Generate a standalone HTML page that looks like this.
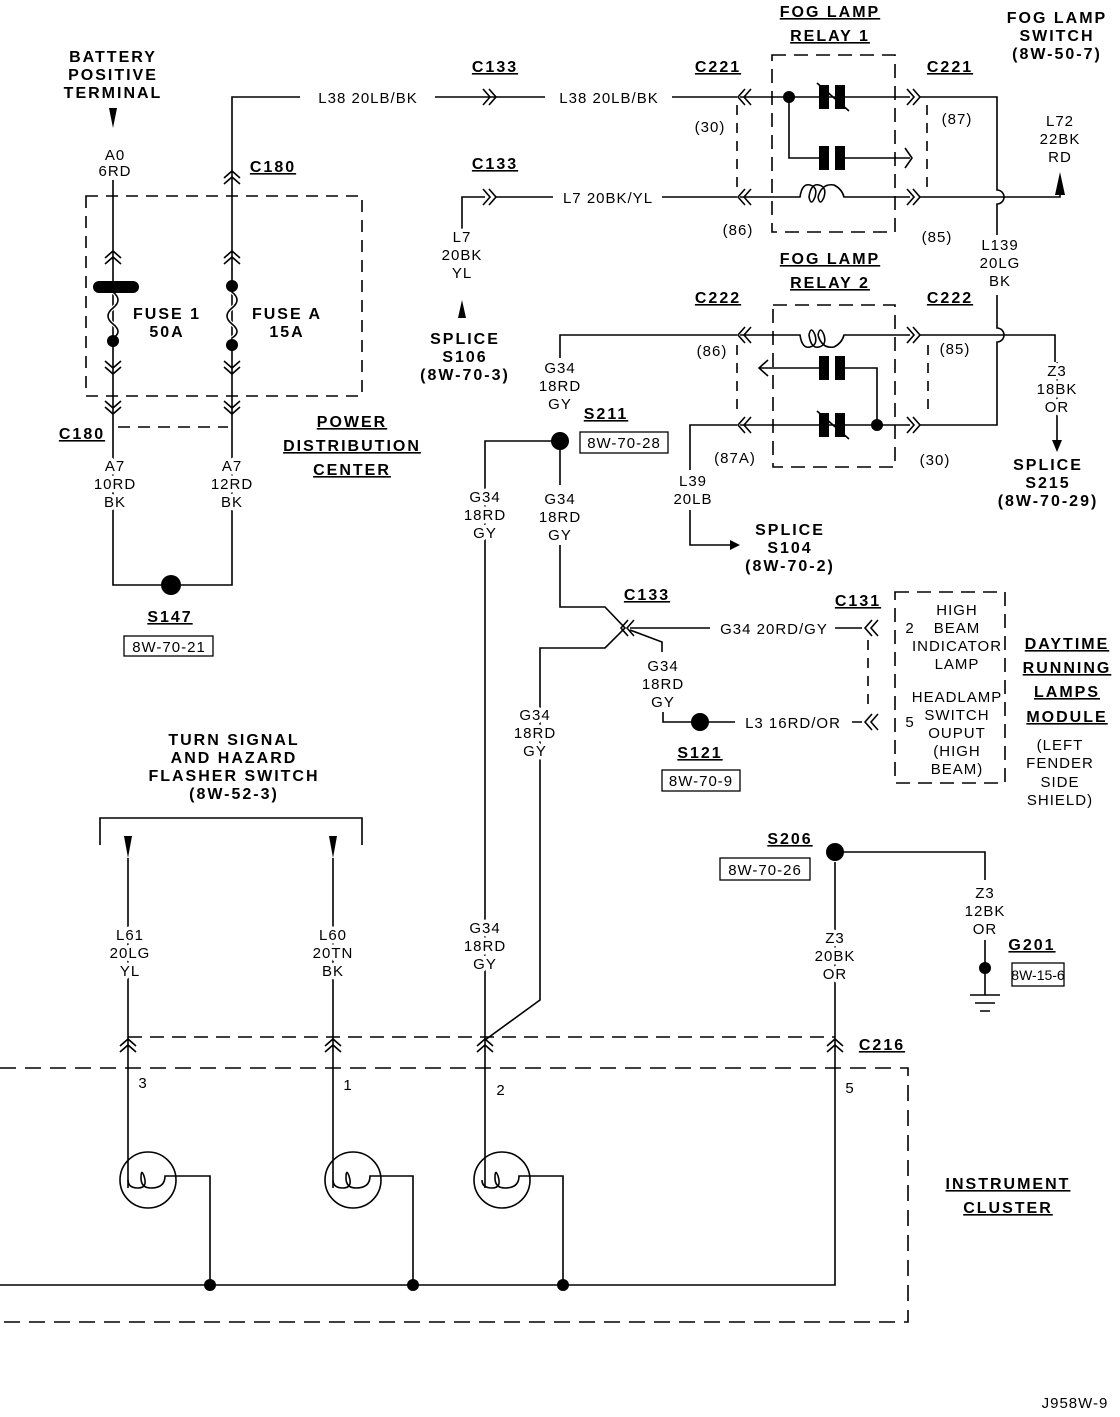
<!DOCTYPE html>
<html><head><meta charset="utf-8"><style>
html,body{margin:0;padding:0;background:#fff}
svg{display:block}
text{font-family:"Liberation Sans",sans-serif;font-size:15px;fill:#000;text-anchor:middle;letter-spacing:1px;stroke:#fff;stroke-width:7px;paint-order:stroke;stroke-linejoin:round}
.b{font-weight:bold;font-size:16px;letter-spacing:2px}
.u{text-decoration:underline;stroke:none}
.n{stroke:none}
</style></head><body>
<svg width="1120" height="1417" viewBox="0 0 1120 1417" xmlns="http://www.w3.org/2000/svg">
<defs>
<g id="cu" fill="none" stroke="#000" stroke-width="1.6"><path d="M-8,3 L0,-4 L8,3 M-8,9 L0,2 L8,9"/></g>
<g id="cd" fill="none" stroke="#000" stroke-width="1.6"><path d="M-8,-3 L0,4 L8,-3 M-8,-9 L0,-2 L8,-9"/></g>
<g id="cr" fill="none" stroke="#000" stroke-width="1.6"><path d="M-9,-8 L-2,0 L-9,8 M-3,-8 L4,0 L-3,8"/></g>
<g id="cl" fill="none" stroke="#000" stroke-width="1.6"><path d="M9,-8 L2,0 L9,8 M3,-8 L-4,0 L3,8"/></g>
<g id="nc"><rect x="-14" y="-12" width="10" height="24" fill="#000"/><rect x="2" y="-12" width="10" height="24" fill="#000"/><path d="M-16,-14 L16,14" stroke="#000" stroke-width="1.6"/></g>
<g id="no"><rect x="-14" y="-12" width="10" height="24" fill="#000"/><rect x="2" y="-12" width="10" height="24" fill="#000"/></g>
</defs>
<g fill="none" stroke="#000" stroke-width="1.6">
<rect x="86" y="196" width="276" height="200" stroke-dasharray="12,8"/>
<path d="M113,180 V585 H232 V97 H300 M435,97 H545 M672,97 H737"/>
<path d="M118,427 H228" stroke-dasharray="12,8"/>
<path d="M113,292 q10,8 0,16 q-10,8 0,16 q10,8 0,14 M232,292 q10,8 0,16 q-10,8 0,16 q10,8 0,14" stroke="#fff" stroke-width="4"/>
<path d="M113,292 q10,8 0,16 q-10,8 0,16 q10,8 0,14 M232,292 q10,8 0,16 q-10,8 0,16 q10,8 0,14"/>
<path d="M462,232 V197 H485 M495,197 H553 M662,197 H737"/>
<rect x="772" y="55" width="123" height="177" stroke-dasharray="14,8"/>
<path d="M737,105 V195 M927,105 V195" stroke-dasharray="10,8"/>
<path d="M740,97 H910 M789,97 V158 H820 M845,158 H910 M905,148 L912,158 L905,168"/>
<path d="M740,197 H800 q2,-14 10,-12 q8,2 5,12 q-4,10 -6,0 q2,-14 10,-12 q8,2 5,12 q-4,10 -6,0 M818,197 q4,-14 16,-12 q8,4 10,12 H910"/>
<path d="M920,97 H997 V190 a7,7 0 0 1 0,14 V235 M920,197 H1060 V190"/>
<path d="M997,295 V328 a7,7 0 0 1 0,14 V425 H920"/>
<rect x="773" y="305" width="122" height="162" stroke-dasharray="14,8"/>
<path d="M737,345 V415 M928,345 V415" stroke-dasharray="10,8"/>
<path d="M560,358 V335 H737 M740,335 H800 q2,14 10,12 q8,-2 5,-12 q-4,-10 -6,0 q2,14 10,12 q8,-2 5,-12 q-4,-10 -6,0 M818,335 q4,14 16,12 q8,-4 10,-12 H910 M920,335 H1055 V362"/>
<path d="M760,368 H820 M845,368 H877 V425 M768,360 L759,368 L768,376"/>
<path d="M690,470 V425 H737 M740,425 H910"/>
<path d="M690,510 V545 H730"/>
<path d="M560,441 H485 V1040 M560,441 V485 M560,545 V607 H605 L625,628 L605,648 H540 V1000 L485,1040"/>
<path d="M630,628 H710 M835,628 H862 M630,630 L662,642 V652 M663,712 V722 H735 M852,722 H862"/>
<path d="M868,640 V712" stroke-dasharray="10,8"/>
<rect x="895" y="592" width="110" height="191" stroke-dasharray="14,8"/>
<path d="M100,845 V818 H362 V845"/>
<path d="M128,858 V1188 M333,858 V1188 M485,1040 V1188 M835,862 V1285 H0"/>
<path d="M128,1037 H835" stroke-dasharray="14,8"/>
<path d="M0,1068 H908 V1322 H0" stroke-dasharray="16,9"/>
<path d="M835,852 H985 V880 M985,940 V995"/>
<path d="M970,995 H1000 M975,1003 H995 M980,1011 H990"/>
<circle cx="148" cy="1180" r="28"/><circle cx="353" cy="1180" r="28"/><circle cx="502" cy="1180" r="28"/>
<path d="M128,1180 q0,8 10,8 q10,0 6,-12 q-3,-8 -3,2 q0,10 10,10 q14,0 14,-12 H210 V1285"/>
<path d="M333,1180 q0,8 10,8 q10,0 6,-12 q-3,-8 -3,2 q0,10 10,10 q14,0 14,-12 H413 V1285"/>
<path d="M482,1180 q0,8 10,8 q10,0 6,-12 q-3,-8 -3,2 q0,10 10,10 q14,0 14,-12 H563 V1285"/>
</g>
<use href="#cu" x="232" y="175"/><use href="#cu" x="113" y="255"/><use href="#cu" x="232" y="255"/>
<use href="#cd" x="113" y="370"/><use href="#cd" x="232" y="370"/><use href="#cd" x="113" y="410"/><use href="#cd" x="232" y="410"/>
<use href="#cr" x="492" y="97"/><use href="#cr" x="492" y="197"/>
<use href="#cl" x="742" y="97"/><use href="#cl" x="742" y="197"/><use href="#cr" x="916" y="97"/><use href="#cr" x="916" y="197"/>
<use href="#cl" x="742" y="335"/><use href="#cl" x="742" y="425"/><use href="#cr" x="916" y="335"/><use href="#cr" x="916" y="425"/>
<use href="#cl" x="625" y="628"/><use href="#cl" x="869" y="628"/><use href="#cl" x="869" y="722"/>
<use href="#cu" x="128" y="1043"/><use href="#cu" x="333" y="1043"/><use href="#cu" x="485" y="1043"/><use href="#cu" x="835" y="1043"/>
<use href="#nc" x="833" y="97"/><use href="#no" x="833" y="158"/><use href="#no" x="833" y="368"/><use href="#nc" x="833" y="425"/>
<g fill="#000">
<rect x="93" y="281" width="46" height="12" rx="6"/>
<circle cx="113" cy="341" r="6"/><circle cx="232" cy="286" r="6"/><circle cx="232" cy="345" r="6"/>
<circle cx="171" cy="585" r="10"/><circle cx="789" cy="97" r="6"/><circle cx="877" cy="425" r="6"/>
<circle cx="560" cy="441" r="9"/><circle cx="700" cy="722" r="9"/><circle cx="835" cy="852" r="9"/><circle cx="985" cy="968" r="6"/>
<circle cx="210" cy="1285" r="6"/><circle cx="413" cy="1285" r="6"/><circle cx="563" cy="1285" r="6"/>
<path d="M109,108 H117 L113,128 Z"/><path d="M462,300 L458,318 H466 Z"/><path d="M1060,172 L1055,195 H1065 Z"/>
<path d="M1057,362 V440" stroke="#000" stroke-width="1.6"/><path d="M1052,440 H1062 L1057,452 Z"/>
<path d="M730,540 V550 L740,545 Z"/>
<path d="M124,836 H132 L128,858 Z"/><path d="M329,836 H337 L333,858 Z"/>
</g>
<rect x="124" y="636" width="89" height="20" fill="none" stroke="#000" stroke-width="1.3"/>
<rect x="580" y="432" width="88" height="21" fill="#fff" stroke="#000" stroke-width="1.3"/>
<rect x="662" y="770" width="78" height="21" fill="none" stroke="#000" stroke-width="1.3"/>
<rect x="720" y="858" width="90" height="22" fill="none" stroke="#000" stroke-width="1.3"/>
<rect x="1012" y="963" width="52" height="23" fill="#fff" stroke="#000" stroke-width="1.3"/>
<text class="b" x="113" y="62">BATTERY</text><text class="b" x="113" y="80">POSITIVE</text><text class="b" x="113" y="98">TERMINAL</text>
<text x="115" y="160">A0</text><text x="115" y="176">6RD</text>
<text class="b u" x="273" y="172">C180</text><text class="b u" x="82" y="439">C180</text>
<text class="b" x="167" y="319">FUSE 1</text><text class="b" x="167" y="337">50A</text>
<text class="b" x="287" y="319">FUSE A</text><text class="b" x="287" y="337">15A</text>
<text class="b u" x="352" y="427">POWER</text><text class="b u" x="352" y="451">DISTRIBUTION</text><text class="b u" x="352" y="475">CENTER</text>
<text x="115" y="471">A7</text><text x="115" y="489">10RD</text><text x="115" y="507">BK</text>
<text x="232" y="471">A7</text><text x="232" y="489">12RD</text><text x="232" y="507">BK</text>
<text class="b u" x="170" y="622">S147</text><text class="n" x="169" y="652">8W-70-21</text>
<text x="368" y="103">L38 20LB/BK</text><text x="609" y="103">L38 20LB/BK</text>
<text class="b u" x="495" y="72">C133</text><text class="b u" x="495" y="169">C133</text>
<text x="608" y="203">L7 20BK/YL</text>
<text x="462" y="242">L7</text><text x="462" y="260">20BK</text><text x="462" y="278">YL</text>
<text class="b" x="465" y="344">SPLICE</text><text class="b" x="465" y="362">S106</text><text class="b" x="465" y="380">(8W-70-3)</text>
<text class="b u" x="830" y="17">FOG LAMP</text><text class="b u" x="830" y="41">RELAY 1</text>
<text class="b u" x="718" y="72">C221</text><text class="b u" x="950" y="72">C221</text>
<text x="710" y="132">(30)</text><text x="957" y="124">(87)</text><text x="738" y="235">(86)</text><text x="937" y="242">(85)</text>
<text class="b" x="1057" y="23">FOG LAMP</text><text class="b" x="1057" y="41">SWITCH</text><text class="b" x="1057" y="59">(8W-50-7)</text>
<text x="1060" y="126">L72</text><text x="1060" y="144">22BK</text><text x="1060" y="162">RD</text>
<text x="1000" y="250">L139</text><text x="1000" y="268">20LG</text><text x="1000" y="286">BK</text>
<text class="b u" x="830" y="264">FOG LAMP</text><text class="b u" x="830" y="288">RELAY 2</text>
<text class="b u" x="718" y="303">C222</text><text class="b u" x="950" y="303">C222</text>
<text x="712" y="356">(86)</text><text x="955" y="354">(85)</text><text x="735" y="463">(87A)</text><text x="935" y="465">(30)</text>
<text x="1057" y="376">Z3</text><text x="1057" y="394">18BK</text><text x="1057" y="412">OR</text>
<text class="b" x="1048" y="470">SPLICE</text><text class="b" x="1048" y="488">S215</text><text class="b" x="1048" y="506">(8W-70-29)</text>
<text x="560" y="373">G34</text><text x="560" y="391">18RD</text><text x="560" y="409">GY</text>
<text class="b u" x="606" y="419">S211</text><text class="n" x="624" y="448">8W-70-28</text>
<text x="693" y="486">L39</text><text x="693" y="504">20LB</text>
<text class="b" x="790" y="535">SPLICE</text><text class="b" x="790" y="553">S104</text><text class="b" x="790" y="571">(8W-70-2)</text>
<text x="485" y="502">G34</text><text x="485" y="520">18RD</text><text x="485" y="538">GY</text>
<text x="560" y="504">G34</text><text x="560" y="522">18RD</text><text x="560" y="540">GY</text>
<text class="b u" x="647" y="600">C133</text><text class="b u" x="858" y="606">C131</text>
<text x="774" y="634">G34 20RD/GY</text>
<text x="663" y="671">G34</text><text x="663" y="689">18RD</text><text x="663" y="707">GY</text>
<text x="793" y="728">L3 16RD/OR</text>
<text x="910" y="633">2</text><text x="910" y="727">5</text>
<text class="b u" x="700" y="758">S121</text><text class="n" x="701" y="786">8W-70-9</text>
<text x="535" y="720">G34</text><text x="535" y="738">18RD</text><text x="535" y="756">GY</text>
<text x="957" y="615">HIGH</text><text x="957" y="633">BEAM</text><text x="957" y="651">INDICATOR</text><text x="957" y="669">LAMP</text>
<text x="957" y="702">HEADLAMP</text><text x="957" y="720">SWITCH</text><text x="957" y="738">OUPUT</text><text x="957" y="756">(HIGH</text><text x="957" y="774">BEAM)</text>
<text class="b u" x="1067" y="649">DAYTIME</text><text class="b u" x="1067" y="673">RUNNING</text><text class="b u" x="1067" y="697">LAMPS</text><text class="b u" x="1067" y="722">MODULE</text>
<text x="1060" y="750">(LEFT</text><text x="1060" y="768">FENDER</text><text x="1060" y="787">SIDE</text><text x="1060" y="805">SHIELD)</text>
<text class="b" x="234" y="745">TURN SIGNAL</text><text class="b" x="234" y="763">AND HAZARD</text><text class="b" x="234" y="781">FLASHER SWITCH</text><text class="b" x="234" y="799">(8W-52-3)</text>
<text x="130" y="940">L61</text><text x="130" y="958">20LG</text><text x="130" y="976">YL</text>
<text x="333" y="940">L60</text><text x="333" y="958">20TN</text><text x="333" y="976">BK</text>
<text x="485" y="933">G34</text><text x="485" y="951">18RD</text><text x="485" y="969">GY</text>
<text x="835" y="943">Z3</text><text x="835" y="961">20BK</text><text x="835" y="979">OR</text>
<text class="b u" x="790" y="844">S206</text><text class="n" x="765" y="875">8W-70-26</text>
<text x="985" y="898">Z3</text><text x="985" y="916">12BK</text><text x="985" y="934">OR</text>
<text class="b u" x="1032" y="950">G201</text><text class="n" x="1038" y="980" style="font-size:14px;letter-spacing:0">8W-15-6</text>
<text class="b u" x="882" y="1050">C216</text>
<text x="143" y="1088">3</text><text x="348" y="1090">1</text><text x="501" y="1095">2</text><text x="850" y="1093">5</text>
<text class="b u" x="1008" y="1189">INSTRUMENT</text><text class="b u" x="1008" y="1213">CLUSTER</text>
<text x="1075" y="1408">J958W-9</text>
</svg>
</body></html>
